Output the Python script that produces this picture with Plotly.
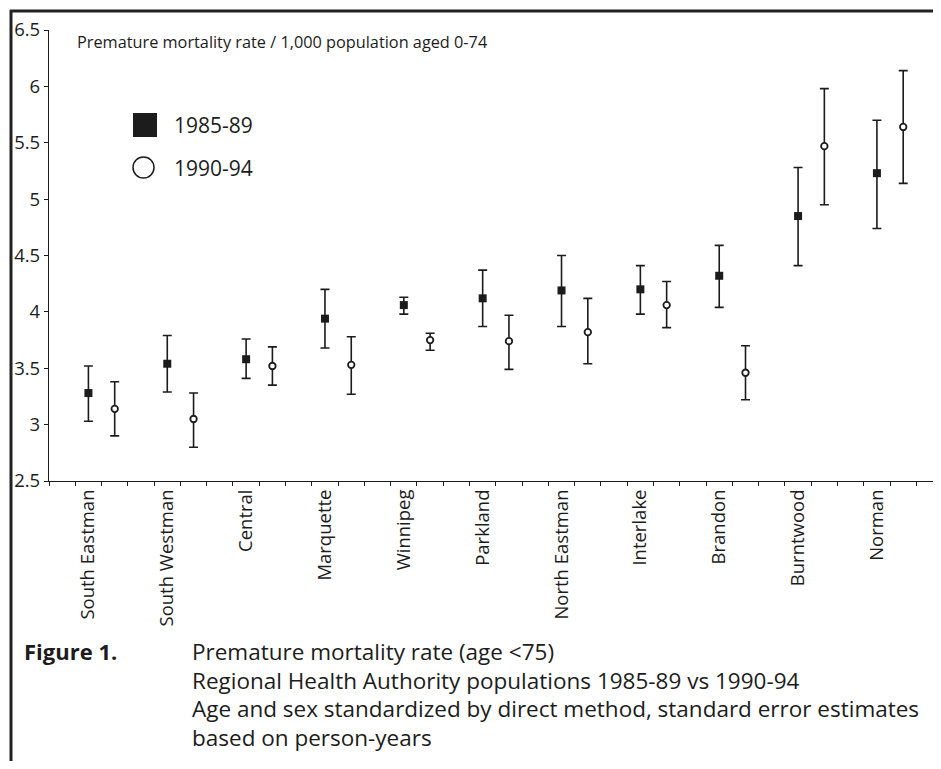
import plotly.graph_objects as go

regions = ["South Eastman", "South Westman", "Central", "Marquette", "Winnipeg",
           "Parkland", "North Eastman", "Interlake", "Brandon", "Burntwood", "Norman"]

mean_8589 = [3.28, 3.54, 3.58, 3.94, 4.06, 4.12, 4.19, 4.20, 4.32, 4.85, 5.23]
upper_8589 = [3.52, 3.79, 3.76, 4.20, 4.13, 4.37, 4.50, 4.41, 4.59, 5.28, 5.70]
lower_8589 = [3.03, 3.29, 3.41, 3.68, 3.98, 3.87, 3.87, 3.98, 4.04, 4.41, 4.74]

mean_9094 = [3.14, 3.05, 3.52, 3.53, 3.75, 3.74, 3.82, 4.06, 3.46, 5.47, 5.64]
upper_9094 = [3.38, 3.28, 3.69, 3.78, 3.81, 3.97, 4.12, 4.27, 3.70, 5.98, 6.14]
lower_9094 = [2.90, 2.80, 3.35, 3.27, 3.66, 3.49, 3.54, 3.86, 3.22, 4.95, 5.14]

y_ticks = [2.5, 3, 3.5, 4, 4.5, 5, 5.5, 6, 6.5]
y_ticktext = ["2.5", "3", "3.5", "4", "4.5", "5", "5.5", "6", "6.5"]

# category positions on a numeric axis: three slots per region
x85 = [1.5 + 3 * i for i in range(len(regions))]
x90 = [2.5 + 3 * i for i in range(len(regions))]

INK = "#1c1c1c"
FONT = "Open Sans"

fig = go.Figure()
fig.add_trace(go.Scatter(
    x=x85, y=mean_8589, mode="markers", name="1985-89", showlegend=False,
    marker=dict(symbol="square", size=8, color=INK, line=dict(width=0)),
    error_y=dict(type="data", symmetric=False,
                 array=[u - m for u, m in zip(upper_8589, mean_8589)],
                 arrayminus=[m - l for m, l in zip(mean_8589, lower_8589)],
                 color=INK, thickness=1.6, width=4.5),
))
fig.add_trace(go.Scatter(
    x=x90, y=mean_9094, mode="markers", name="1990-94", showlegend=False,
    marker=dict(symbol="circle", size=6.5, color="white", line=dict(width=1.8, color=INK)),
    error_y=dict(type="data", symmetric=False,
                 array=[u - m for u, m in zip(upper_9094, mean_9094)],
                 arrayminus=[m - l for m, l in zip(mean_9094, lower_9094)],
                 color=INK, thickness=1.6, width=4.5),
))

OFF = 8  # page body margin
W, H = 933, 753
L, R, T = 49 - OFF, 1, 30 - OFF
B = H - (481 - OFF)
pw = W - L - R
ph = H - T - B

def px(x):
    return (x - OFF - L) / pw

def py(y):
    return (H - B - (y - OFF)) / ph

def note(text, x, y, size, anchor="left"):
    return dict(text=text, xref="paper", yref="paper", x=px(x), y=py(y),
                xanchor=anchor, yanchor="middle", showarrow=False,
                font=dict(family=FONT, size=size, color=INK))

fig.update_layout(
    width=W, height=H,
    margin=dict(l=L, r=R, t=T, b=B),
    paper_bgcolor="white", plot_bgcolor="white",
    showlegend=False,
    xaxis=dict(
        range=[0, 33.9], showgrid=False, zeroline=False,
        showline=True, linecolor=INK, linewidth=1.2,
        tickmode="array", tickvals=x85, ticktext=regions,
        ticks="", tickangle=-90,
        tickfont=dict(family=FONT, size=18.5, color=INK),
        minor=dict(tickmode="linear", tick0=0, dtick=1, ticks="outside",
                   ticklen=4, tickwidth=1, tickcolor=INK),
    ),
    yaxis=dict(
        range=[2.5, 6.5], showgrid=False, zeroline=False,
        showline=True, linecolor=INK, linewidth=1.2,
        tickmode="array", tickvals=y_ticks, ticktext=y_ticktext,
        ticks="outside", ticklen=4, tickcolor=INK,
        tickfont=dict(family=FONT, size=18.5, color=INK),
    ),
    shapes=[
        # page frame
        dict(type="line", xref="paper", yref="paper", x0=px(10), x1=px(941),
             y0=py(11), y1=py(11), line=dict(color="#222", width=3)),
        dict(type="line", xref="paper", yref="paper", x0=px(11), x1=px(11),
             y0=py(10), y1=py(769), line=dict(color="#222", width=3)),
        # legend glyphs
        dict(type="rect", xref="paper", yref="paper", x0=px(133), x1=px(157),
             y0=py(137), y1=py(113), fillcolor=INK, line=dict(width=0)),
        dict(type="circle", xref="paper", yref="paper", x0=px(133), x1=px(154),
             y0=py(178), y1=py(157), fillcolor="white", line=dict(color=INK, width=1.5)),
    ],
    annotations=[
        note("Premature mortality rate / 1,000 population aged 0-74", 75, 42, 16.3),
        note("1985-89", 172, 125, 21),
        note("1990-94", 172, 168, 21),
        note("<b>Figure 1.</b>", 22, 651, 22),
        note("Premature mortality rate (age <75)", 190, 651, 22.5),
        note("Regional Health Authority populations 1985-89 vs 1990-94", 190, 680, 22.5),
        note("Age and sex standardized by direct method, standard error estimates", 190, 709, 22.5),
        note("based on person-years", 190, 737, 22.5),
    ],
)

fig.write_html("out.html")
